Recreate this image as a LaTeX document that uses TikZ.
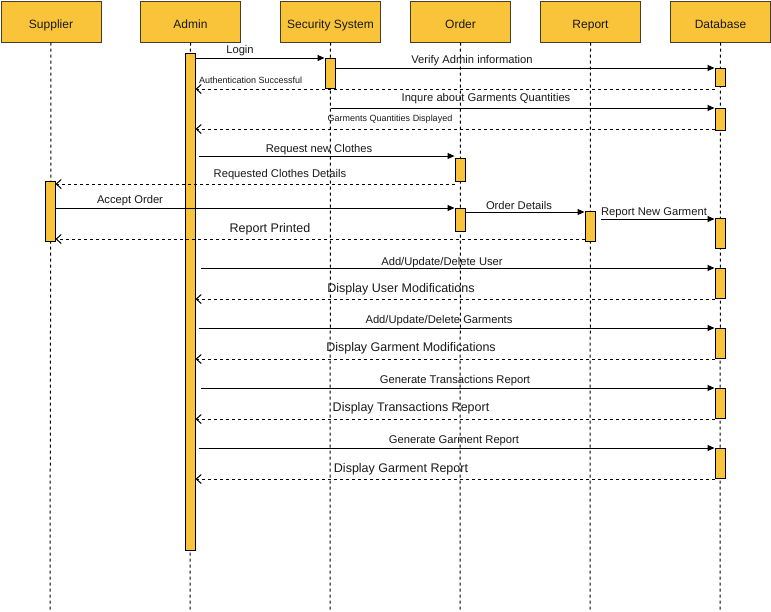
\documentclass[tikz,border=0pt]{standalone}
\usepackage{fontspec}
\setmainfont{Liberation Sans}
\usetikzlibrary{arrows.meta}
\definecolor{actyellow}{RGB}{250,196,58}
\definecolor{hdrline}{RGB}{70,62,40}
\definecolor{txt}{RGB}{25,25,25}
\tikzset{
  header/.style={draw=hdrline, line width=1pt, fill=actyellow, minimum width=100pt, minimum height=41pt, inner sep=0pt, text height=13pt, text depth=0pt, anchor=north west, text=txt, font=\fontsize{12}{14}\selectfont},
  lifeline/.style={draw=black, line width=1pt, dash pattern=on 3pt off 3pt},
  act/.style={draw=black, line width=1pt, fill=actyellow, minimum width=10pt, inner sep=0pt, anchor=north},
  msg/.style={draw=black, line width=1pt, -{Triangle[length=7pt,width=6pt]}},
  ret/.style={draw=black, line width=1pt, dash pattern=on 3pt off 3pt, -{Straight Barb[length=5pt,width=9pt,line width=1pt]}},
  lbl/.style={inner sep=0pt, yshift=-1.5pt, text=txt, font=\fontsize{11.2}{13}\selectfont},
  lblsmall/.style={inner sep=0pt, yshift=-1.5pt, text=txt, font=\fontsize{9}{11}\selectfont},
  lblbig/.style={inner sep=0pt, yshift=-1.5pt, text=txt, font=\fontsize{12.5}{15}\selectfont},
}
\begin{document}
\begin{tikzpicture}[x=1pt,y=-1pt]
\useasboundingbox (0,0) rectangle (771,611);
% headers
\node[header] (sup) at (0.5,0.5) {Supplier};
\node[header] (adm) at (140,0.5) {Admin};
\node[header] (sec) at (280,0.5) {Security System};
\node[header] (ord) at (410,0.5) {Order};
\node[header] (rep) at (540,0.5) {Report};
\node[header] (db)  at (670,0.5) {Database};
% lifeline ends
\coordinate (supE) at (50,611);
\coordinate (admE) at (190,611);
\coordinate (secE) at (330,611);
\coordinate (ordE) at (460,611);
\coordinate (repE) at (590,611);
\coordinate (dbE)  at (720,611);
\draw[lifeline] (sup.south) -- (supE);
\draw[lifeline] (adm.south) -- (admE);
\draw[lifeline] (sec.south) -- (secE);
\draw[lifeline] (ord.south) -- (ordE);
\draw[lifeline] (rep.south) -- (repE);
\draw[lifeline] (db.south) -- (dbE);
% activations
\node[act, minimum height=497pt] (aA) at (190,53) {};
\node[act, minimum height=30pt] (aS) at (330,58) {};
\node[act, minimum height=18pt] (aD1) at (720,68) {};
\node[act, minimum height=22pt] (aD2) at (720,108) {};
\node[act, minimum height=23pt] (aO1) at (460,158) {};
\node[act, minimum height=60pt] (aSup) at (50,181) {};
\node[act, minimum height=23pt] (aO2) at (460,208) {};
\node[act, minimum height=30pt] (aR) at (590,211) {};
\node[act, minimum height=30pt] (aD3) at (720,218) {};
\node[act, minimum height=30pt] (aD4) at (720,268) {};
\node[act, minimum height=30pt] (aD5) at (720,328) {};
\node[act, minimum height=30pt] (aD6) at (720,388) {};
\node[act, minimum height=30pt] (aD7) at (720,448) {};
% message end points
\coordinate (pAuth) at ([yshift=-2pt]aD1.south west);
\coordinate (pGQD) at ([yshift=2pt]aD2.south west);
\coordinate (pReq) at ([yshift=2pt]aO1.north west);
\coordinate (pRCD) at ([yshift=-2pt]aO1.south west);
\coordinate (pOD) at ([yshift=-1pt]aR.north west);
\coordinate (pRNG) at ([yshift=-1pt]aD3.north west);
\coordinate (pRP) at ([yshift=3pt]aR.south west);
% messages
\draw[msg] (aA.east |- aS.north) -- (aS.north west);
\node[lbl] (lLogin) at (240,49) {Login};
\draw[msg] (aS.east |- aD1.north) -- (aD1.north west);
\node[lbl] (lVerify) at (472,59) {Verify Admin information};
\draw[ret] (pAuth) -- (aA.east |- pAuth);
\node[lblsmall, anchor=west] (lAuth) at (199,79) {Authentication Successful};
\draw[msg] (sec.south |- aD2.north) -- (aD2.north west);
\node[lbl] (lInq) at (486,97) {Inqure about Garments Quantities};
\draw[ret] (pGQD) -- (aA.east |- pGQD);
\node[lblsmall] (lGQD) at (390,118) {Garments Quantities Displayed};
\draw[msg] ([xshift=3pt]aA.east |- pReq) -- (pReq);
\node[lbl] (lReq) at (319,148) {Request new Clothes};
\draw[ret] (pRCD) -- (aSup.east |- pRCD);
\node[lbl] (lRCD) at (280,173) {Requested Clothes Details};
\draw[msg] (aSup.east |- aO2.north) -- (aO2.north west);
\node[lbl] (lAcc) at (130,199) {Accept Order};
\draw[msg] (aO2.east |- pOD) -- (pOD);
\node[lbl] (lOD) at (519,204) {Order Details};
\draw[msg] ([xshift=5pt]aR.east |- pRNG) -- (pRNG);
\node[lbl] (lRNG) at (654,211) {Report New Garment};
\draw[ret] (pRP) -- (aSup.east |- pRP);
\node[lblbig] (lRP) at (270,228) {Report Printed};
% admin <-> database
\draw[msg] ([xshift=5pt]aA.east |- aD4.north) -- (aD4.north west);
\node[lbl] (l1) at (442,261) {Add/Update/Delete User};
\draw[ret] (aD4.south west) -- (aA.east |- aD4.south west);
\node[lblbig] (l2) at (401,288) {Display User Modifications};
\draw[msg] ([xshift=3pt]aA.east |- aD5.north) -- (aD5.north west);
\node[lbl] (l3) at (439,319) {Add/Update/Delete Garments};
\draw[ret] (aD5.south west) -- (aA.east |- aD5.south west);
\node[lblbig] (l4) at (411,347) {Display Garment Modifications};
\draw[msg] ([xshift=5pt]aA.east |- aD6.north) -- (aD6.north west);
\node[lbl] (l5) at (455,379) {Generate Transactions Report};
\draw[ret] (aD6.south west) -- (aA.east |- aD6.south west);
\node[lblbig] (l6) at (411,407) {Display Transactions Report};
\draw[msg] ([xshift=3pt]aA.east |- aD7.north) -- (aD7.north west);
\node[lbl] (l7) at (454,439) {Generate Garment Report};
\draw[ret] (aD7.south west) -- (aA.east |- aD7.south west);
\node[lblbig] (l8) at (401,468) {Display Garment Report};
\end{tikzpicture}
\end{document}
